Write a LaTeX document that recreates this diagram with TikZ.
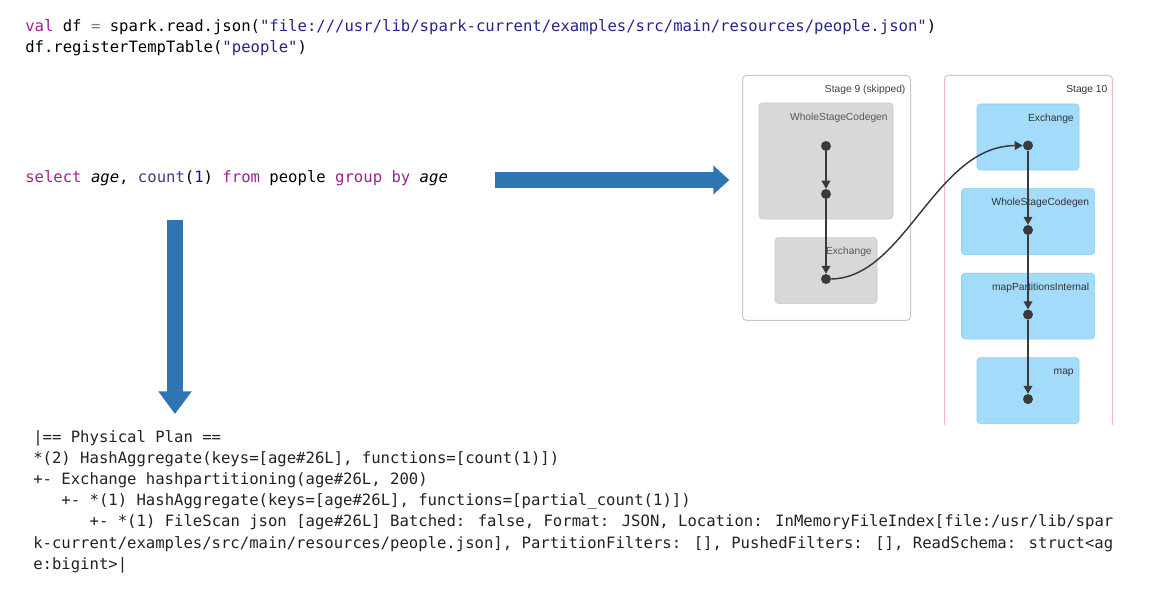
\documentclass[tikz,border=0pt]{standalone}
\usepackage{fontspec}
\newfontfamily\codefont{DejaVu Sans Mono}
\newfontfamily\uifont{Liberation Sans}
\usepackage{xcolor}
\usetikzlibrary{arrows.meta,positioning,calc}

\definecolor{kwpurple}{RGB}{155,35,147}
\definecolor{strblue}{RGB}{36,36,140}
\definecolor{fnslate}{RGB}{63,63,130}
\definecolor{numblue}{RGB}{28,0,207}
\definecolor{plantext}{RGB}{34,34,34}
\definecolor{arrowblue}{RGB}{46,117,178}
\definecolor{stagegray}{RGB}{200,200,200}
\definecolor{stagepink}{RGB}{240,180,200}
\definecolor{boxgray}{RGB}{216,216,216}
\definecolor{boxgrayline}{RGB}{200,200,200}
\definecolor{boxblue}{RGB}{162,220,250}
\definecolor{boxblueline}{RGB}{135,205,242}
\definecolor{edgegray}{RGB}{58,58,58}

\begin{document}
\begin{tikzpicture}[x=0.75pt, y=-0.75pt,
  node distance=13.5pt,
  code/.style={anchor=base west, inner sep=0pt, font=\codefont\fontsize{11.7}{14}\selectfont},
  plan/.style={code, text=plantext},
  stage/.style={rounded corners=3pt, fill=white, line width=0.75pt, anchor=north west, minimum width=126pt, inner sep=0pt},
  lbl/.style={anchor=north east, inner xsep=4pt, inner ysep=7pt, text height=6pt, font=\uifont\fontsize{7.7}{9}\selectfont},
  graybox/.style={draw=boxgrayline, fill=boxgray, rounded corners=2.5pt, minimum height=49.5pt, inner sep=0pt},
  bluebox/.style={draw=boxblueline, fill=boxblue, rounded corners=2.5pt, minimum height=49.5pt, inner sep=0pt},
  dot/.style={circle, fill=edgegray, minimum size=7.5pt, inner sep=0pt},
  flow/.style={draw=edgegray, line width=1.1pt, -{Triangle[length=6pt,width=6.5pt]}},
  bigarrow/.style={draw=arrowblue, line width=12pt}]
\useasboundingbox (0,0) rectangle (1152,591);

% code on top
\node[code] (load) at (25,32) {\textcolor{kwpurple}{val} df \textcolor{gray}{=} spark.read.json(\textcolor{strblue}{"file:///usr/lib/spark-current/examples/src/main/resources/people.json"})};
\node[code] (reg) at (25,53) {df.registerTempTable(\textcolor{strblue}{"people"})};
\node[code] (query) at (25,183) {\textcolor{kwpurple}{select} \textit{age}, \textcolor{fnslate}{count}(\textcolor{numblue}{1}) \textcolor{kwpurple}{from} people \textcolor{kwpurple}{group by} \textit{age}};

% physical plan
\node[plan] (p1) at (33,442) {|== Physical Plan ==};
\node[plan] (p2) at (33,463.2) {*(2) HashAggregate(keys=[age\#26L], functions=[count(1)])};
\node[plan] (p3) at (33,484.4) {+- Exchange hashpartitioning(age\#26L, 200)};
\node[plan] (p4) at (61.2,505.6) {+- *(1) HashAggregate(keys=[age\#26L], functions=[partial\_count(1)])};
\node[plan] (p5) at (89.4,526.8) {+- *(1) FileScan json [age\#26L] Batched: false, Format: JSON, Location: InMemoryFileIndex[file:/usr/lib/spar};
\node[plan] (p6) at (33,548) {k-current/examples/src/main/resources/people.json], PartitionFilters: [], PushedFilters: [], ReadSchema: struct<ag};
\node[plan] (p7) at (33,569.2) {e:bigint>|};

% stage 9
\node[stage, draw=stagegray, minimum height=183.75pt, label={[lbl, text=black!75]north east:Stage 9 (skipped)}] (st9) at (742,75) {};
\node[graybox, minimum width=100.5pt, minimum height=87pt, label={[lbl, text=black!65]north east:WholeStageCodegen}] (wsc9) at (826,161) {};
\node[graybox, minimum width=76.5pt, below=of wsc9, label={[lbl, text=black!65]north east:Exchange}] (ex9) {};
\node[dot] (a1) at (826,146) {};
\node[dot] (a2) at (826,194) {};
\node[dot] (a3) at ($(ex9.center)+(0,8.5)$) {};

% stage 10
\begin{scope}
  \clip (930,60) rectangle (1130,424);
  \node[stage, draw=stagepink, minimum height=270pt, label={[lbl, text=black!80]north east:Stage 10}] (st10) at (944,75) {};
\end{scope}
\node[bluebox, minimum width=76.5pt, label={[lbl, text=black!80]north east:Exchange}] (ex10) at (1028,137) {};
\node[bluebox, minimum width=99.75pt, below=of ex10, label={[lbl, text=black!80]north east:WholeStageCodegen}] (wsc10) {};
\node[bluebox, minimum width=99.75pt, below=of wsc10, label={[lbl, text=black!80]north east:mapPartitionsInternal}] (mpi10) {};
\node[bluebox, minimum width=76.5pt, below=of mpi10, label={[lbl, text=black!80]north east:map}] (map10) {};
\foreach \b/\d in {ex10/b1,wsc10/b2,mpi10/b3,map10/b4}
  \node[dot] (\d) at ($(\b.center)+(0,8.5)$) {};

% edges
\foreach \x/\y in {a1/a2,a2/a3,b1/b2,b2/b3,b3/b4} \draw[flow] (\x) -- (\y);
\draw[flow] (a3) .. controls (905,278) and (935,146) .. (b1);

% big arrows
\coordinate (hfrom) at (495,180);
\coordinate (vfrom) at (175,220);
\coordinate (vto) at (175,414);
\draw[bigarrow, -{Triangle[length=12pt,width=21pt]}, shorten >=9.5pt] (hfrom) -- (hfrom -| st9.west);
\draw[bigarrow, -{Triangle[length=17pt,width=24pt]}] (vfrom) -- (vto);
\end{tikzpicture}
\end{document}
